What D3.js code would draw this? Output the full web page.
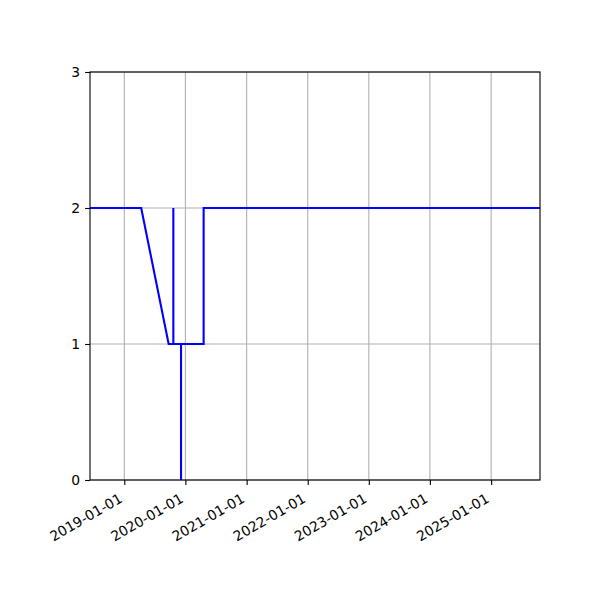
<!DOCTYPE html>
<html lang="en">
<head>
<meta charset="UTF-8">
<script src="https://d3js.org/d3.v7.min.js"></script>
<title>step line</title>
</head>
<body style="margin:0;">
<script>
    // data
    const dates = ["2018-05-01", "2019-04-12", "2019-09-23", "2019-10-21", "2019-10-21", "2019-10-21",
        "2019-12-06", "2019-12-06", "2019-12-06", "2020-04-19", "2020-04-19", "2026-01-01"];
    const values = [2, 2, 1, 1, 2, 1, 1, 0, 1, 1, 2, 2];
    const xTicks = ["2019-01-01", "2020-01-01", "2021-01-01", "2022-01-01", "2023-01-01", "2024-01-01", "2025-01-01"];
    const yTicks = [0, 1, 2, 3];
    const xLimits = ["2018-06-10", "2025-10-20"];
    const yLimits = [0, 3];

    const width = 600;
    const height = 600;
    const margin = { top: 72, right: 60, bottom: 120, left: 90 };
    const font = "DejaVu Sans";

    const parse = d3.utcParse("%Y-%m-%d");
    const data = dates.map((d, i) => ({ date: parse(d), value: values[i] }));

    const x = d3.scaleUtc()
        .domain(xLimits.map(parse))
        .range([margin.left, width - margin.right]);

    const y = d3.scaleLinear()
        .domain(yLimits)
        .range([height - margin.bottom, margin.top]);

    const svg = d3.select("body")
        .append("svg")
        .attr("width", width)
        .attr("height", height)
        .attr("viewBox", [0, 0, width, height]);

    svg.append("rect")
        .attr("width", width)
        .attr("height", height)
        .attr("fill", "white");

    svg.append("clipPath")
        .attr("id", "clip")
        .append("rect")
        .attr("x", margin.left)
        .attr("y", margin.top)
        .attr("width", width - margin.left - margin.right)
        .attr("height", height - margin.top - margin.bottom);

    // grid
    const grid = svg.append("g")
        .attr("stroke", "#b0b0b0")
        .attr("stroke-width", 1.1);
    grid.selectAll(".gx")
        .data(xTicks.map(parse))
        .join("line")
        .attr("x1", d => x(d)).attr("x2", d => x(d))
        .attr("y1", margin.top).attr("y2", height - margin.bottom);
    grid.selectAll(".gy")
        .data(yTicks)
        .join("line")
        .attr("x1", margin.left).attr("x2", width - margin.right)
        .attr("y1", d => y(d)).attr("y2", d => y(d));

    const line = d3.line()
        .x(d => x(d.date))
        .y(d => y(d.value));

    svg.append("path")
        .datum(data)
        .attr("clip-path", "url(#clip)")
        .attr("fill", "none")
        .attr("stroke", "#0000ff")
        .attr("stroke-width", 2.1)
        .attr("stroke-linejoin", "miter")
        .attr("d", line);

    // axes
    const xAxis = g => g
        .attr("transform", `translate(0,${height - margin.bottom})`)
        .attr("font-family", font)
        .call(d3.axisBottom(x).tickValues(xTicks.map(parse)).tickSize(4.9).tickSizeOuter(0).tickFormat(d3.utcFormat("%Y-%m-%d")))
        .attr("font-family", font)
        .call(g => g.select(".domain").remove())
        .call(g => g.selectAll(".tick line").attr("stroke-width", 1.1))
        .call(g => g.selectAll(".tick text")
            .attr("font-family", font)
            .attr("font-size", 13.9)
            .attr("fill", "black")
            .attr("text-anchor", "end")
            .attr("dominant-baseline", "central")
            .attr("y", null)
            .attr("dy", null)
            .attr("transform", "translate(-4,17) rotate(-30)"));

    const yAxis = g => g
        .attr("transform", `translate(${margin.left},0)`)
        .call(d3.axisLeft(y).tickValues(yTicks).tickSize(4.9).tickPadding(4.9).tickFormat(d3.format("d")))
        .attr("font-family", font)
        .call(g => g.select(".domain").remove())
        .call(g => g.selectAll(".tick line").attr("stroke-width", 1.1))
        .call(g => g.selectAll(".tick text")
            .attr("font-family", font)
            .attr("font-size", 13.9)
            .attr("fill", "black"));

    svg.append("g").call(xAxis);
    svg.append("g").call(yAxis);

    svg.append("rect")
        .attr("x", margin.left)
        .attr("y", margin.top)
        .attr("width", width - margin.left - margin.right)
        .attr("height", height - margin.top - margin.bottom)
        .attr("fill", "none")
        .attr("stroke", "black")
        .attr("stroke-width", 1.1);
</script>
</body>
</html>
